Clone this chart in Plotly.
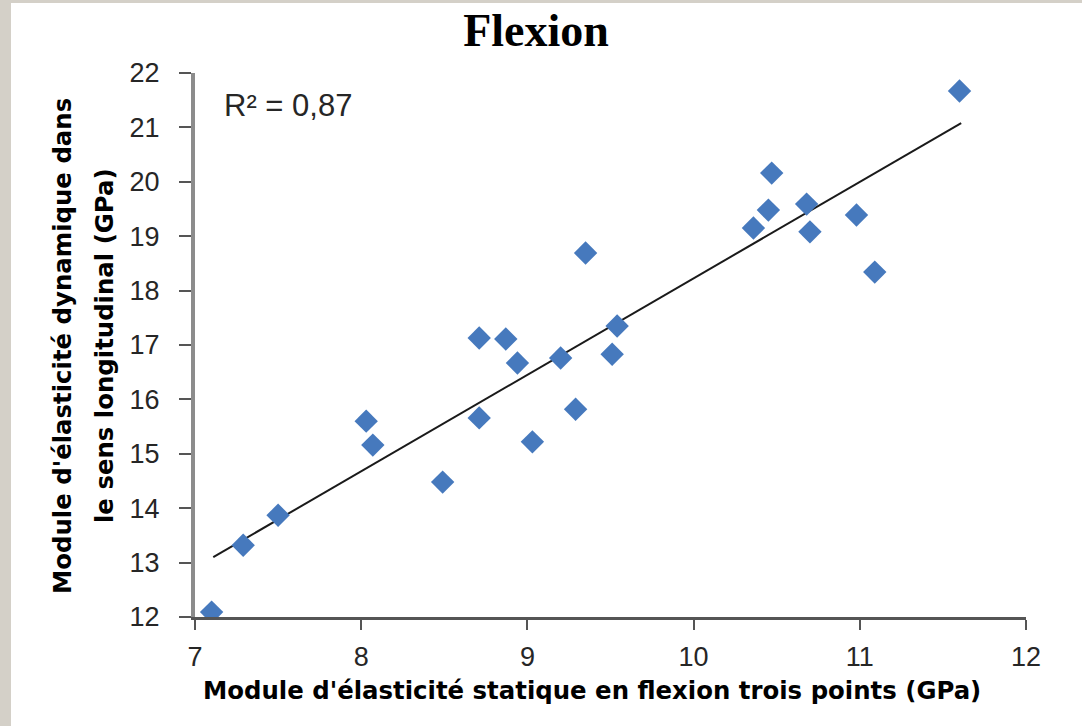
import numpy as np
import plotly.graph_objects as go

# ---- data ----
static_modulus = [7.10, 7.29, 7.50, 8.03, 8.07, 8.49, 8.71, 8.71, 8.87, 8.94, 9.03, 9.20,
                  9.29, 9.35, 9.51, 9.54, 10.36, 10.45, 10.47, 10.68, 10.70, 10.98, 11.09, 11.60]
dynamic_modulus = [12.09, 13.32, 13.87, 15.60, 15.16, 14.48, 15.66, 17.13, 17.11, 16.67, 15.22, 16.76,
                   15.82, 18.69, 16.83, 17.35, 19.15, 19.48, 20.16, 19.59, 19.08, 19.39, 18.34, 21.67]
trend_x = [7.11, 11.61]
trend_y = [13.10, 21.08]
x_ticks = [7, 8, 9, 10, 11, 12]
y_ticks = [12, 13, 14, 15, 16, 17, 18, 19, 20, 21, 22]
r2_label = "R² = 0,87"
title_text = "Flexion"
x_title = "Module d'élasticité statique en flexion trois points (GPa)"
y_title_lines = ["Module d'élasticité dynamique dans", "le sens longitudinal (GPa)"]

W, H = 1082, 726
ML, MR, MT, MB = 195, 56, 73, 109
PW, PH = W - ML - MR, H - MT - MB

fig = go.Figure()
fig.add_trace(go.Scatter(
    x=trend_x, y=trend_y, mode="lines",
    line=dict(color="#1a1a1a", width=2), showlegend=False, hoverinfo="skip"))
fig.add_trace(go.Scatter(
    x=static_modulus, y=dynamic_modulus, mode="markers",
    marker=dict(symbol="diamond", size=18, color="#4679bd", line=dict(width=0)),
    showlegend=False))

tick_font = dict(family="Liberation Sans, Arial, sans-serif", size=27, color="#262626")
fig.update_xaxes(
    range=[7, 12], tickvals=x_ticks, ticktext=[str(v) for v in x_ticks],
    showgrid=False, zeroline=False, showline=True, linecolor="#555555", linewidth=3,
    ticks="outside", ticklen=10, tickwidth=2, tickcolor="#555555",
    tickfont=tick_font, ticklabelstandoff=4)
fig.update_yaxes(
    range=[12, 22], tickvals=y_ticks, ticktext=[str(v) for v in y_ticks],
    showgrid=False, zeroline=False, showline=True, linecolor="#8c8c8c", linewidth=4,
    ticks="outside", ticklen=12, tickwidth=2, tickcolor="#555555",
    tickfont=tick_font, ticklabelstandoff=14)

# grey window borders (left and top)
fig.add_shape(type="rect", xref="paper", yref="paper",
              x0=-ML / PW, x1=(11 - ML) / PW, y0=-MB / PH, y1=1 + MT / PH,
              fillcolor="#d4d0c8", line=dict(width=0), layer="below")
fig.add_shape(type="rect", xref="paper", yref="paper",
              x0=-ML / PW, x1=1 + MR / PW, y0=1 + (MT - 3) / PH, y1=1 + MT / PH,
              fillcolor="#d4d0c8", line=dict(width=0), layer="below")

fig.add_annotation(text=r2_label, x=7.16, y=21.41, xref="x", yref="y",
                   xanchor="left", yanchor="middle", showarrow=False,
                   font=dict(family="Liberation Sans, Arial, sans-serif", size=31, color="#262626"))
title_font = dict(family="DejaVu Sans, sans-serif", size=24.4, color="#000000")
fig.add_annotation(text="<b>" + x_title + "</b>", xref="paper", yref="paper",
                   x=(592 - ML) / PW, y=-(690 - (H - MB)) / PH, xanchor="center", yanchor="middle",
                   showarrow=False, font=title_font)
for line_text, cx in zip(y_title_lines, [62, 104]):
    fig.add_annotation(text="<b>" + line_text + "</b>", xref="paper", yref="paper",
                       x=-(ML - cx) / PW, y=(H - MB - 346) / PH, xanchor="center", yanchor="middle",
                       textangle=-90, showarrow=False, font=title_font)

fig.update_layout(
    width=W, height=H, autosize=False,
    margin=dict(l=ML, r=MR, t=MT, b=MB, pad=0),
    paper_bgcolor="white", plot_bgcolor="white",
    title=dict(text="<b>" + title_text + "</b>", xref="container", yref="container",
               x=536 / W, y=1 - 30 / H, xanchor="center", yanchor="middle",
               font=dict(family="Liberation Serif, Times New Roman, serif", size=46, color="#000000")),
)

fig.write_html("out.html", config={"displayModeBar": False},
               post_script="document.body.style.margin='0';")
